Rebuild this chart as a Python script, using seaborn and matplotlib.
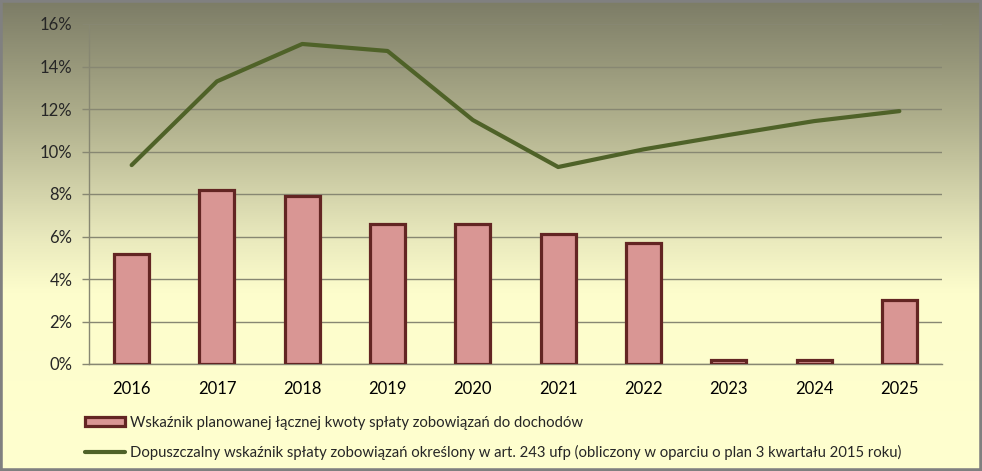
import numpy as np
import pandas as pd
import matplotlib
matplotlib.use("Agg")
import matplotlib.pyplot as plt
from matplotlib.colors import LinearSegmentedColormap
from matplotlib.patches import Patch, Rectangle
from matplotlib.lines import Line2D
from matplotlib.ticker import PercentFormatter, FixedLocator
import seaborn as sns

# dane
years = ["2016", "2017", "2018", "2019", "2020", "2021", "2022", "2023", "2024", "2025"]
planned = [0.052, 0.082, 0.079, 0.066, 0.066, 0.061, 0.057, 0.002, 0.002, 0.030]
allowed = [0.0936, 0.133, 0.1506, 0.1473, 0.1148, 0.0927, 0.101, 0.1078, 0.1143, 0.119]

label_bar = "Wskaźnik planowanej łącznej kwoty spłaty zobowiązań do dochodów"
label_line = ("Dopuszczalny wskaźnik spłaty zobowiązań określony w art. 243 ufp "
              "(obliczony w oparciu o plan 3 kwartału 2015 roku)")

df = pd.DataFrame({"year": years, "planned": planned, "allowed": allowed,
                   "pos": np.arange(len(years))})

sns.set_style("white")
plt.rcParams['font.family'] = ['Lato', 'DejaVu Sans']

fig = plt.figure(figsize=(9.82, 4.71), dpi=100)

# tło z gradientem
bg = fig.add_axes([0, 0, 1, 1], zorder=-10)
cmap = LinearSegmentedColormap.from_list(
    "bg", [(0.0, "#7c7c66"), (0.25, "#afaf8c"), (0.5, "#e8e8bc"), (0.62, "#fdfdcc"), (1.0, "#ffffcf")])
grad = np.linspace(0, 1, 256).reshape(-1, 1)
bg.imshow(grad, aspect="auto", cmap=cmap, extent=[0, 1, 0, 1], origin="upper")
bg.set_axis_off()
fig.patches.append(Rectangle((0, 0), 1, 1, transform=fig.transFigure, fill=False,
                             edgecolor="#808080", linewidth=4, zorder=10))

ax = fig.add_axes([89 / 982, 1 - 364 / 471, (942 - 89) / 982, 340 / 471])
ax.patch.set_alpha(0)

sns.barplot(data=df, x="year", y="planned", ax=ax, color="#d99694",
            edgecolor="#632523", linewidth=2.3, width=0.41, saturation=1, zorder=3)
sns.lineplot(data=df, x="pos", y="allowed", ax=ax, color="#4f6228", linewidth=3,
             zorder=4)

ax.set_xlim(-0.5, len(years) - 0.5)
ax.set_ylim(0, 0.16)
ax.set_yticks(np.arange(0, 0.161, 0.02))
ax.yaxis.set_major_formatter(PercentFormatter(1.0, decimals=0))
ax.yaxis.grid(True, color="#878772", linewidth=1)
ax.set_axisbelow(True)
ax.set_xlabel("")
ax.set_ylabel("")

ax.xaxis.set_minor_locator(FixedLocator(np.arange(-0.5, len(years), 1.0)))
ax.tick_params(axis="x", which="major", length=0, pad=12, labelsize=12, colors="#000000")
ax.tick_params(axis="x", which="minor", length=6, width=1, color="#878772", direction="out")
ax.tick_params(axis="y", length=5, width=1, color="#878772", pad=7, labelsize=12,
               direction="out", left=True)

for s in ["top", "right"]:
    ax.spines[s].set_visible(False)
for s in ["left", "bottom"]:
    ax.spines[s].set_color("#878772")
    ax.spines[s].set_linewidth(1)

handles = [Patch(facecolor="#d99694", edgecolor="#632523", linewidth=2.3),
           Line2D([0], [0], color="#4f6228", linewidth=3)]
fig.legend(handles, [label_bar, label_line], loc="upper left",
           bbox_to_anchor=(85 / 982, 1 - 416 / 471), frameon=False, fontsize=10.7,
           borderpad=0, borderaxespad=0,
           handlelength=2.7, handleheight=0.6, handletextpad=0.33, labelspacing=1.0)

fig.savefig("out.png", dpi=100)
